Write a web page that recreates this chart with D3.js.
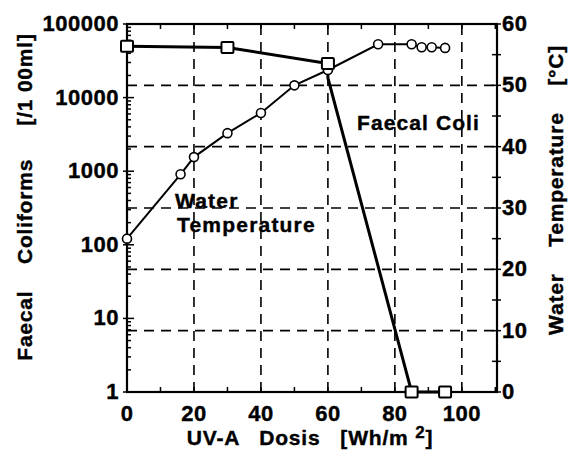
<!DOCTYPE html>
<html lang="en">
<head>
<meta charset="UTF-8">
<title>UV-A Dosis</title>
<script src="https://cdn.jsdelivr.net/npm/d3@7"></script>
<style>
    body { margin: 0; background: #fff; }
    text { font-family: "Liberation Sans", Arial, sans-serif; font-weight: bold; fill: #000; stroke: #000; stroke-width: 0.4; }
    .grid line { stroke: #000; stroke-width: 1.6; stroke-dasharray: 10 7; }
</style>
</head>
<body>
<script>
    var width = 581, height = 460;
    var margin = { top: 24, right: 84, bottom: 68, left: 127 };

    // faecal coli counts [/100ml]
    var coliDose = [0, 30, 60, 60, 85, 95];
    var coliCount = [50000, 48000, 29000, 18500, 1, 1];

    // water temperature [°C]
    var tempDose = [0, 16, 20, 30, 40, 50, 60, 75, 85, 88, 91, 95];
    var tempValue = [25, 35.5, 38.3, 42.2, 45.5, 50, 52.5, 56.7, 56.7, 56.2, 56.2, 56.1];

    var xTicks = [0, 20, 40, 60, 80, 100];
    var leftTicks = [1, 10, 100, 1000, 10000, 100000];
    var rightTicks = [0, 10, 20, 30, 40, 50, 60];

    var svg = d3.select("body").append("svg")
        .attr("width", width)
        .attr("height", height);

    var x = d3.scaleLinear().domain([0, 110.5]).range([margin.left, width - margin.right]);
    var yLog = d3.scaleLog().domain([1, 100000]).range([height - margin.bottom, margin.top]);
    var yT = d3.scaleLinear().domain([0, 60]).range([height - margin.bottom, margin.top]);

    var x0 = x.range()[0], x1 = x.range()[1];
    var y0 = yT.range()[0], y1 = yT.range()[1];

    // grid
    var grid = svg.append("g").attr("class", "grid");
    grid.selectAll(".v").data([20, 40, 60, 80, 100]).enter().append("line")
        .attr("x1", d => x(d)).attr("x2", d => x(d))
        .attr("y1", y0).attr("y2", y1);
    grid.selectAll(".h").data([10, 20, 30, 40, 50]).enter().append("line")
        .attr("x1", x0).attr("x2", x1)
        .attr("y1", d => yT(d)).attr("y2", d => yT(d));

    // minor ticks
    var ticks = svg.append("g").attr("stroke", "#000").attr("stroke-width", 1.5);
    var xMinor = d3.range(0, 111, 10);
    xMinor.forEach(function(d) {
        ticks.append("line").attr("x1", x(d)).attr("x2", x(d)).attr("y1", y0).attr("y2", y0 - 5);
        ticks.append("line").attr("x1", x(d)).attr("x2", x(d)).attr("y1", y1).attr("y2", y1 + 5);
    });
    var logMinor = [];
    for (var e = 0; e < 5; e++) {
        for (var m = 2; m < 10; m++) logMinor.push(m * Math.pow(10, e));
    }
    logMinor.forEach(function(d) {
        ticks.append("line").attr("x1", x0).attr("x2", x0 + 4).attr("y1", yLog(d)).attr("y2", yLog(d));
    });
    leftTicks.forEach(function(d) {
        ticks.append("line").attr("x1", x0 - 4).attr("x2", x0 + 7).attr("y1", yLog(d)).attr("y2", yLog(d));
    });
    d3.range(0, 61, 5).forEach(function(d) {
        ticks.append("line").attr("x1", x1 - 5).attr("x2", x1 + 4).attr("y1", yT(d)).attr("y2", yT(d));
    });

    // frame
    svg.append("rect")
        .attr("x", x0).attr("y", y1)
        .attr("width", x1 - x0).attr("height", y0 - y1)
        .attr("fill", "none").attr("stroke", "#000").attr("stroke-width", 2.2);

    // tick labels
    svg.append("g").selectAll("text").data(xTicks).enter().append("text")
        .attr("x", d => x(d)).attr("y", y0 + 29)
        .attr("text-anchor", "middle").attr("font-size", 22).attr("letter-spacing", 0.5)
        .text(d => d);
    svg.append("g").selectAll("text").data(leftTicks).enter().append("text")
        .attr("x", x0 - 8).attr("y", d => yLog(d) + 7)
        .attr("text-anchor", "end").attr("font-size", 22).attr("letter-spacing", 0.5)
        .text(d => d);
    svg.append("g").selectAll("text").data(rightTicks).enter().append("text")
        .attr("x", x1 + 5).attr("y", d => yT(d) + 7)
        .attr("text-anchor", "start").attr("font-size", 22).attr("letter-spacing", 0.5)
        .text(d => d);

    // temperature line
    var tempPts = tempDose.map((d, i) => [x(d), yT(tempValue[i])]);
    svg.append("path")
        .attr("d", d3.line()(tempPts))
        .attr("fill", "none").attr("stroke", "#000").attr("stroke-width", 2);

    // coli line
    var coliPts = coliDose.map((d, i) => [x(d), yLog(coliCount[i])]);
    svg.append("path")
        .attr("d", d3.line()(coliPts))
        .attr("fill", "none").attr("stroke", "#000").attr("stroke-width", 3);

    svg.append("g").selectAll("circle").data(tempPts).enter().append("circle")
        .attr("cx", d => d[0]).attr("cy", d => d[1]).attr("r", 4.5)
        .attr("fill", "#fff").attr("stroke", "#000").attr("stroke-width", 1.6);

    svg.append("g").selectAll("rect").data(coliPts.filter((d, i) => i !== 3)).enter().append("rect")
        .attr("x", d => d[0] - 6).attr("y", d => d[1] - 5.5)
        .attr("width", 12).attr("height", 11).attr("rx", 1)
        .attr("fill", "#fff").attr("stroke", "#000").attr("stroke-width", 2);

    // annotations
    svg.append("text").attr("x", 175).attr("y", 208).attr("font-size", 21).attr("letter-spacing", 1.2).text("Water");
    svg.append("text").attr("x", 177).attr("y", 232).attr("font-size", 21).attr("letter-spacing", 1.2).text("Temperature");
    svg.append("text").attr("x", 357).attr("y", 130).attr("font-size", 21).attr("letter-spacing", 1.1).text("Faecal Coli");

    // axis titles
    svg.append("text")
        .attr("x", 310).attr("y", 445)
        .attr("text-anchor", "middle").attr("font-size", 21).attr("letter-spacing", 0.8)
        .style("white-space", "pre")
        .html("UV-A   Dosis   [Wh/m <tspan dy='-7' font-size='17'>2</tspan><tspan dy='7'>]</tspan>");

    svg.append("text")
        .attr("transform", "translate(32,197) rotate(-90)")
        .attr("text-anchor", "middle").attr("font-size", 21).attr("letter-spacing", 0.8)
        .style("white-space", "pre")
        .text("Faecal    Coliforms     [/1 00ml]");

    svg.append("text")
        .attr("transform", "translate(563,190) rotate(-90)")
        .attr("text-anchor", "middle").attr("font-size", 21).attr("letter-spacing", 0.8)
        .style("white-space", "pre")
        .text("Water    Temperature    [°C]");
</script>
</body>
</html>
